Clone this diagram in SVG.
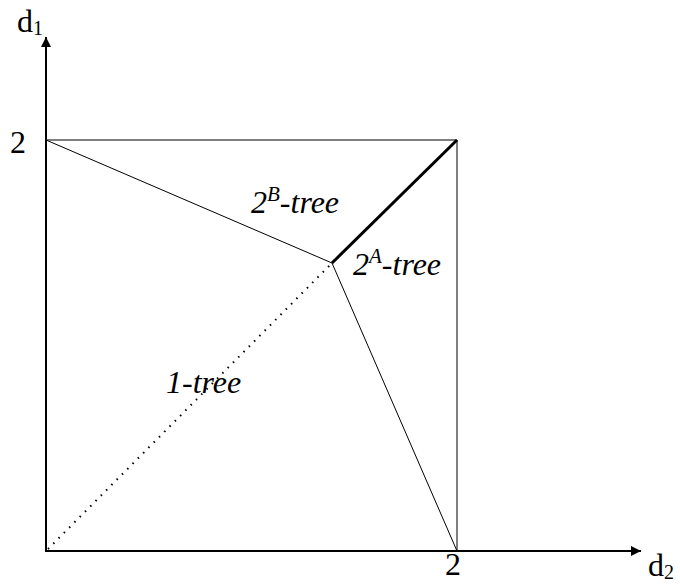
<svg xmlns="http://www.w3.org/2000/svg" width="680" height="585" viewBox="0 0 680 585">
<style>
.thin{stroke:#000;stroke-width:1;fill:none}
.axis{stroke:#000;stroke-width:2;fill:none}
.lbl{font-family:"Liberation Serif","Times New Roman",Times,serif;font-size:32px;fill:#000}
</style>
<defs>
<marker id="ah" viewBox="0 0 10 10" refX="10" refY="5" markerWidth="5" markerHeight="5" orient="auto" markerUnits="strokeWidth">
<path d="M0,0 L10,5 L0,10 z" fill="#000"/>
</marker>
</defs>
<rect width="680" height="585" fill="#fff"/>
<g id="connectors">
<line class="axis" x1="46" y1="552" x2="46" y2="37" marker-end="url(#ah)"/>
<line class="axis" x1="45" y1="551" x2="641" y2="551" marker-end="url(#ah)"/>
<line class="thin" x1="46" y1="140" x2="457" y2="140"/>
<line class="thin" x1="457" y1="140" x2="457" y2="551"/>
<line class="thin" x1="46" y1="140" x2="332" y2="263"/>
<line x1="332" y1="263" x2="457" y2="140" stroke="#000" stroke-width="3"/>
<line class="thin" x1="332" y1="263" x2="457" y2="551"/>
<line x1="48" y1="549" x2="332" y2="263" stroke="#000" stroke-width="2" stroke-dasharray="1.5 6"/>
</g>
<g id="labels" class="lbl">
<text x="17" y="32">d<tspan font-size="20" dy="3">1</tspan></text>
<text x="10" y="153">2</text>
<text x="445" y="575">2</text>
<text x="648" y="576">d<tspan font-size="20" dy="3">2</tspan></text>
<text font-style="italic" x="251" y="213">2<tspan font-size="21" dy="-12">B</tspan><tspan dy="12">-tree</tspan></text>
<text font-style="italic" x="353" y="275">2<tspan font-size="21" dy="-12">A</tspan><tspan dy="12">-tree</tspan></text>
<text font-style="italic" x="166" y="393">1-tree</text>
</g>
</svg>
